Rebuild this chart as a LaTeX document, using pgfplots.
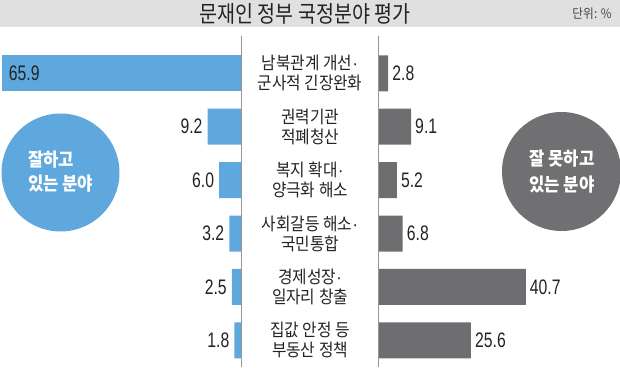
\documentclass[border=0pt]{standalone}
\usepackage{pgfplots}
\pgfplotsset{compat=1.18}
\usepackage{fontspec}
\setmainfont{Noto Sans CJK KR}
\newfontfamily\kr[FakeStretch=0.9]{Noto Sans CJK KR}
\newfontfamily\krtitle[FakeStretch=0.85]{Noto Sans CJK KR}
\newfontfamily\num[FakeStretch=0.75]{Liberation Sans}
\newfontfamily\lib{Liberation Sans}
\definecolor{barblue}{RGB}{94,168,222}
\definecolor{bargray}{RGB}{110,110,113}
\definecolor{circgray}{RGB}{112,112,114}
\definecolor{band}{RGB}{224,224,224}
\definecolor{txt}{RGB}{35,35,35}
\definecolor{axgray}{RGB}{150,150,150}
\newcommand{\md}{{\lib ·}}
\begin{document}
\begin{tikzpicture}
\useasboundingbox (0pt,0pt) rectangle (620pt,367pt);
\fill[band] (0pt,340pt) rectangle (620pt,367pt);
\node[font=\krtitle\fontsize{23}{26}\selectfont, text=txt, inner sep=0pt] at (305pt,353pt) {문재인 정부 국정분야 평가};
\node[font=\kr\fontsize{13}{15}\selectfont, text={rgb,255:red,70;green,70;blue,70}, inner sep=0pt] at (592pt,353pt) {단위: \%};
\fill[barblue] (60.5pt,194.5pt) circle (59pt);
\fill[circgray] (561.5pt,195.5pt) circle (59.5pt);
\node[font=\kr\bfseries\fontsize{18.5}{24}\selectfont, text=white, align=left, anchor=west, inner sep=0pt] at (28pt,195.5pt) {잘하고\\있는 분야};
\node[font=\kr\bfseries\fontsize{18.5}{26}\selectfont, text=white, align=center, inner sep=0pt] at (562pt,195.5pt) {잘 못하고\\있는 분야};
\begin{axis}[at={(241pt,0pt)}, anchor=south east, scale only axis,
  width=240pt, height=320.4pt,
  xmin=0, xmax=66.1, ymin=0.5, ymax=6.5, x dir=reverse, y dir=reverse,
  hide axis, xbar, bar width=36pt, bar shift=0pt, clip=false,
  point meta=explicit symbolic, nodes near coords,
  every node near coord/.append style={font=\num\fontsize{21}{21}\selectfont, text=txt, inner sep=0pt}]
\addplot[fill=barblue, draw=none, every node near coord/.append style={anchor=west, xshift=7pt}]
  coordinates {(65.9,1) [65.9]};
\addplot[fill=barblue, draw=none, every node near coord/.append style={anchor=east, xshift=-5pt}]
  coordinates {(9.2,2) [9.2] (6.0,3) [6.0] (3.2,4) [3.2] (2.5,5) [2.5] (1.8,6) [1.8]};
\end{axis}
\begin{axis}[at={(378pt,0pt)}, anchor=south west, scale only axis,
  width=240pt, height=320.4pt,
  xmin=0, xmax=66.1, ymin=0.5, ymax=6.5, y dir=reverse,
  axis line style={draw=none}, xtick=\empty, ytick={1,2,3,4,5,6}, major tick length=0pt,
  yticklabels={{남북관계 개선\md\\군사적 긴장완화},{권력기관\\적폐청산},{복지 확대\md\\양극화 해소},{사회갈등 해소\md\\국민통합},{경제성장\md\\일자리 창출},{집값 안정 등\\부동산 정책}},
  yticklabel style={align=center, anchor=center, xshift=-68pt, font=\kr\fontsize{17.5}{20}\selectfont, text=txt, inner sep=0pt},
  xbar, bar width=36pt, bar shift=0pt, clip=false,
  point meta=explicit symbolic, nodes near coords,
  every node near coord/.append style={font=\num\fontsize{21}{21}\selectfont, text=txt, inner sep=0pt, anchor=west, xshift=4pt}]
\addplot[fill=bargray, draw=none]
  coordinates {(2.8,1) [2.8] (9.1,2) [9.1] (5.2,3) [5.2] (6.8,4) [6.8] (40.7,5) [40.7] (25.6,6) [25.6]};
\end{axis}
\draw[axgray, line width=0.9pt] (241.5pt,0pt) -- (241.5pt,331pt);
\draw[axgray, line width=0.9pt] (378pt,0pt) -- (378pt,331pt);
\end{tikzpicture}
\end{document}
